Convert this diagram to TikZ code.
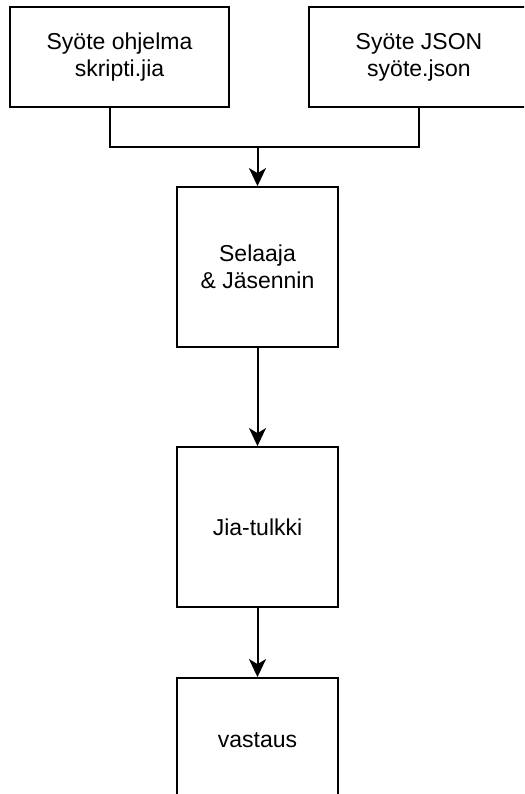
\documentclass[tikz,border=0pt]{standalone}
\usepackage{fontspec}
\setmainfont{Liberation Sans}
\usetikzlibrary{arrows.meta}
\begin{document}
\begin{tikzpicture}[x=1pt,y=-1pt,
  block/.style={draw=black, line width=1.8pt, fill=white, align=center,
    inner sep=0pt, font=\fontsize{23}{27}\selectfont, text=black},
  link/.style={line width=2pt, draw=black},
  arrowlink/.style={link, -{Stealth[length=18pt,width=17pt,inset=5pt]}}]
\useasboundingbox (0,0) rectangle (524,794);
\clip (0,0) rectangle (524,794);

% inputs
\node[block, minimum width=219pt, minimum height=100pt] (prog) at (119.5,57)
  {Syöte ohjelma\\skripti.jia};
\node[block, minimum width=220pt, minimum height=100pt] (json) at (419,57)
  {Syöte JSON\\syöte.json};

% processing chain
\node[block, minimum width=161pt, minimum height=160pt] (parser) at (257.5,267)
  {Selaaja\\\& Jäsennin};
\node[block, minimum width=161pt, minimum height=160pt] (interp) at (257.5,527)
  {Jia-tulkki};
\node[block, minimum width=161pt, minimum height=124pt] (result) at (257.5,740)
  {vastaus};

% merge of the two inputs
\coordinate (merge) at (257.5,147);
\draw[link] ([xshift=-9.5pt]prog.south) |- (merge) -| (json.south);
\draw[arrowlink] (merge) -- (parser.north);
\draw[arrowlink] (parser.south) -- (interp.north);
\draw[arrowlink] (interp.south) -- (result.north);
\end{tikzpicture}
\end{document}
